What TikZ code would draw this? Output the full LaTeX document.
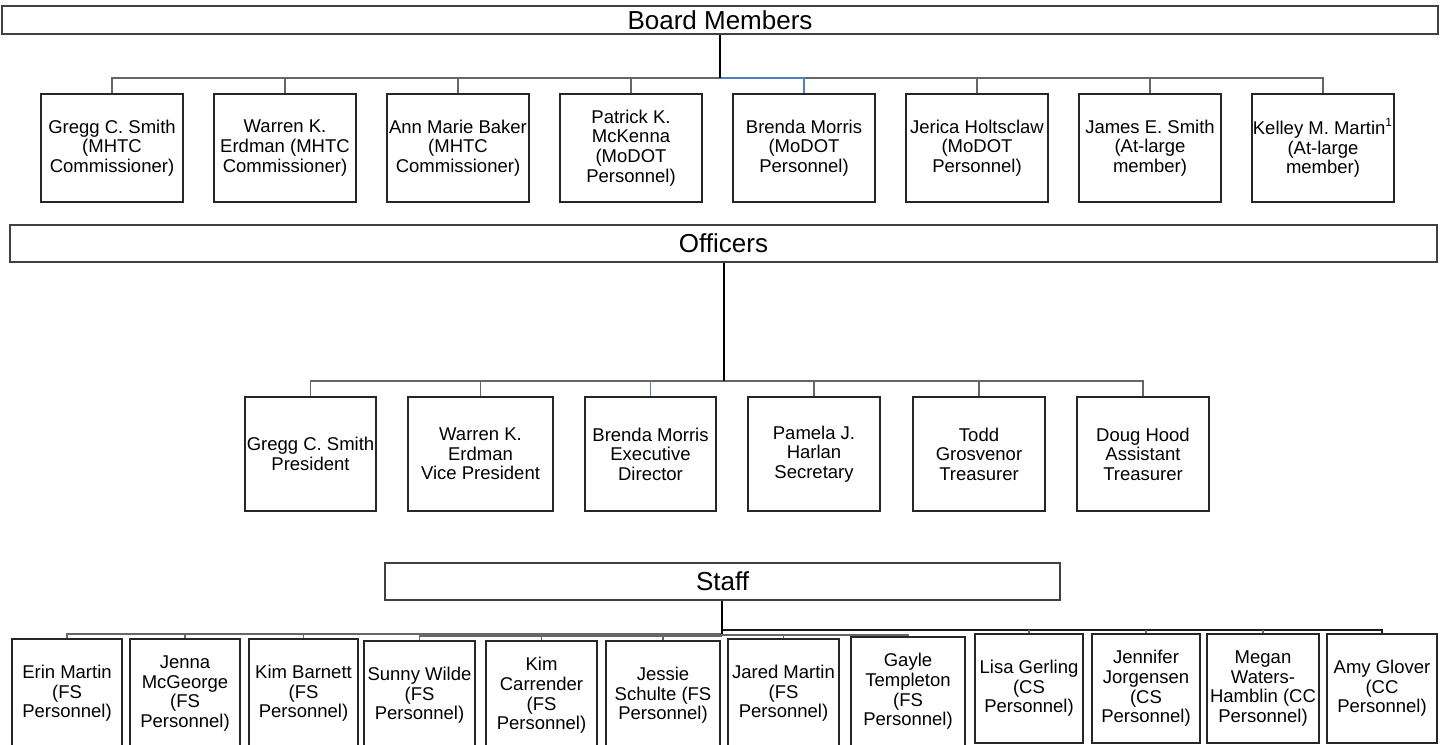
\documentclass[tikz,border=0pt]{standalone}
\usepackage{fontspec}
\setmainfont{Liberation Sans}
\begin{document}
\begin{tikzpicture}[x=0.5pt,y=-0.5pt,
  titlebox/.style={draw=black!75, line width=0.6pt, inner sep=0pt, font=\fontsize{13pt}{15pt}\selectfont},
  mbox/.style={draw=black!85, line width=0.55pt, inner sep=0pt, align=center, font=\fontsize{9.25pt}{9.8pt}\selectfont},
  conn/.style={draw=black!60, line width=0.55pt},
  mainline/.style={draw=black, line width=1.1pt},
  bconn/.style={draw={rgb,255:red,79;green,129;blue,189}, line width=0.55pt},
  dconn/.style={draw=black!90, line width=0.75pt}]
\useasboundingbox (0,0) rectangle (1444,744);
\clip (0,0) rectangle (1444,744);
\fill[white] (0,0) rectangle (1444,744);

% ---------- Board ----------
\node[titlebox, minimum width=718pt, minimum height=14pt] (bm) at (720,20) {Board Members};
\node[mbox, minimum width=71pt, minimum height=54pt] (b1) at (112,148) {Gregg C. Smith\\(MHTC\\Commissioner)};
\node[mbox, minimum width=71pt, minimum height=54pt] (b2) at (285,148) {Warren K.\\Erdman (MHTC\\Commissioner)};
\node[mbox, minimum width=71pt, minimum height=54pt] (b3) at (458,148) {Ann Marie Baker\\(MHTC\\Commissioner)};
\node[mbox, minimum width=71pt, minimum height=54pt] (b4) at (631,148) {Patrick K.\\McKenna\\(MoDOT\\Personnel)};
\node[mbox, minimum width=71pt, minimum height=54pt] (b5) at (804,148) {Brenda Morris\\(MoDOT\\Personnel)};
\node[mbox, minimum width=71pt, minimum height=54pt] (b6) at (977,148) {Jerica Holtsclaw\\(MoDOT\\Personnel)};
\node[mbox, minimum width=71pt, minimum height=54pt] (b7) at (1150,148) {James E. Smith\\(At-large\\member)};
\node[mbox, minimum width=71pt, minimum height=54pt] (b8) at (1323,148) {Kelley M. Martin\textsuperscript{\fontsize{6pt}{6pt}\selectfont 1}\\(At-large\\member)};
\coordinate (bj) at (720,78);
\draw[conn] (b1.north) -- (b1.north |- bj) -- (b8.north |- bj) -- (b8.north);
\foreach \k in {2,3,4,6,7} \draw[conn] (b\k.north) -- (b\k.north |- bj);
\draw[bconn] (bj) -- (bj -| b5.north) -- (b5.north);
\draw[mainline] (bm.south) -- (bj);

% ---------- Officers ----------
\node[titlebox, minimum width=713.5pt, minimum height=18.5pt] (of) at (723.5,243.5) {Officers};
\node[mbox, minimum width=65.5pt, minimum height=57pt] (o1) at (310.5,454) {Gregg C. Smith\\President};
\node[mbox, minimum width=72.5pt, minimum height=57pt] (o2) at (480.5,454) {Warren K.\\Erdman\\Vice President};
\node[mbox, minimum width=65.5pt, minimum height=57pt] (o3) at (650.5,454) {Brenda Morris\\Executive\\Director};
\node[mbox, minimum width=66pt, minimum height=57pt] (o4) at (814,454) {Pamela J.\\Harlan\\Secretary};
\node[mbox, minimum width=66pt, minimum height=57pt] (o5) at (979,454) {Todd\\Grosvenor\\Treasurer};
\node[mbox, minimum width=66pt, minimum height=57pt] (o6) at (1143,454) {Doug Hood\\Assistant\\Treasurer};
\coordinate (oj) at (724,381);
\draw[conn] (o1.north) -- (o1.north |- oj) -- (o6.north |- oj) -- (o6.north);
\foreach \k in {2,4,5} \draw[conn] (o\k.north) -- (o\k.north |- oj);
\draw[bconn] (o3.north) -- (o3.north |- oj);
\draw[mainline] (of.south -| oj) -- (oj);

% ---------- Staff ----------
\node[titlebox, minimum width=337.5pt, minimum height=18.5pt] (st) at (722.5,581.5) {Staff};
\node[mbox, minimum width=55pt, minimum height=54.5pt] (s1) at (67,693.5) {Erin Martin\\(FS\\Personnel)};
\node[mbox, minimum width=55pt, minimum height=54.5pt] (s2) at (185,693.5) {Jenna\\McGeorge\\(FS\\Personnel)};
\node[mbox, minimum width=54.5pt, minimum height=54.5pt] (s3) at (303.5,693.5) {Kim Barnett\\(FS\\Personnel)};
\node[mbox, minimum width=55.5pt, minimum height=54.5pt] (s4) at (419.5,695.5) {Sunny Wilde\\(FS\\Personnel)};
\node[mbox, minimum width=55.5pt, minimum height=54.5pt] (s5) at (541.5,695.5) {Kim\\Carrender\\(FS\\Personnel)};
\node[mbox, minimum width=57pt, minimum height=54.5pt] (s6) at (663,695.5) {Jessie\\Schulte (FS\\Personnel)};
\node[mbox, minimum width=55.5pt, minimum height=54.5pt] (s7) at (783.5,693.5) {Jared Martin\\(FS\\Personnel)};
\node[mbox, minimum width=57pt, minimum height=54.5pt] (s8) at (908,691.5) {Gayle\\Templeton\\(FS\\Personnel)};
\node[mbox, minimum width=54pt, minimum height=54.5pt] (s9) at (1029,688.5) {Lisa Gerling\\(CS\\Personnel)};
\node[mbox, minimum width=54pt, minimum height=54.5pt] (s10) at (1146,688.5) {Jennifer\\Jorgensen\\(CS\\Personnel)};
\node[mbox, minimum width=56pt, minimum height=54.5pt] (s11) at (1263,688.5) {Megan\\Waters-\\Hamblin (CC\\Personnel)};
\node[mbox, minimum width=55pt, minimum height=54.5pt] (s12) at (1382,688.5) {Amy Glover\\(CC\\Personnel)};
\coordinate (sj) at (722,634);
\coordinate (sjl) at (722,636);
\coordinate (sjm) at (722,635);
\coordinate (sjr) at (722,630);
% left bus
\draw[conn] (s1.north) -- (s1.north |- sj) -- (sj);
\foreach \k in {2,3,5,6} \draw[conn] (s\k.north) -- (s\k.north |- sj);
\draw[conn] (s4.north) -- (s4.north |- sjl) -- (sjl);
% middle bus
\draw[conn] (s7.north) -- (s7.north |- sjm) -- (sjm);
\draw[conn] (s8.north) -- (s8.north |- sjm) -- (sjm);
% right bus
\draw[dconn] (sjr) -- (sjr -| s12.north) -- (s12.north);
\foreach \k in {9,10,11} \draw[conn] (s\k.north) -- (s\k.north |- sjr);
\draw[mainline] (st.south -| sj) -- (sj);
\end{tikzpicture}
\end{document}
